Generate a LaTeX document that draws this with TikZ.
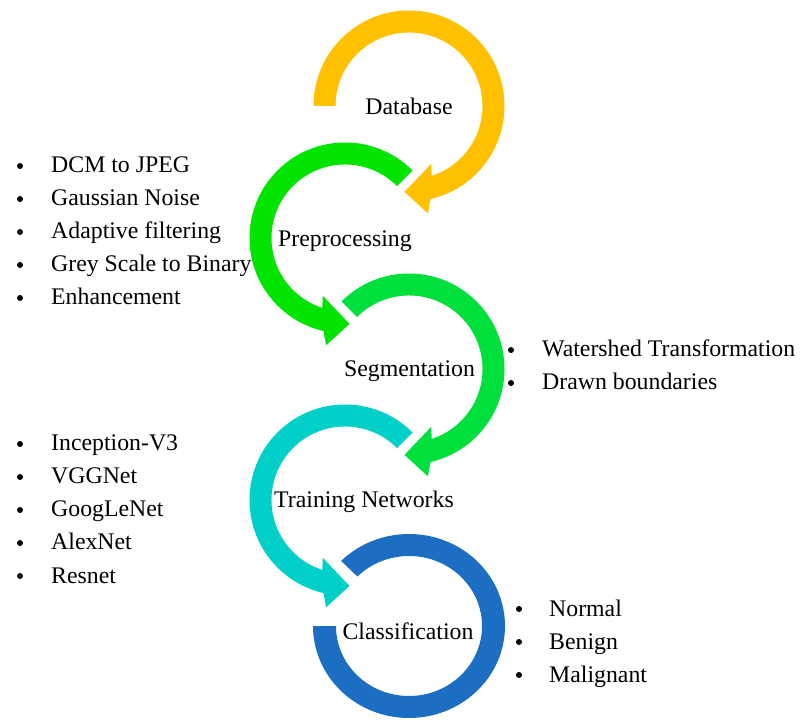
\documentclass[tikz,border=0pt]{standalone}
\usepackage{fontspec}
\setmainfont{Liberation Serif}
\definecolor{cgold}{HTML}{FFC000}
\definecolor{cgreenA}{HTML}{00E400}
\definecolor{cgreenB}{HTML}{00E03C}
\definecolor{cteal}{HTML}{00D0C8}
\definecolor{cblue}{HTML}{1B6EC2}
\tikzset{
  lbl/.style={font=\fontsize{23.8pt}{28pt}\selectfont, inner sep=0pt, anchor=base},
  item/.style={font=\fontsize{23.8pt}{28pt}\selectfont, inner sep=0pt, anchor=base west},
  bul/.style={circle, fill=black, inner sep=0pt, minimum size=6pt},
}
\begin{document}
\begin{tikzpicture}[x=1pt,y=1pt]
\useasboundingbox (0,0) rectangle (803,726);
% Ring 1 (Database), clockwise
\begin{scope}[shift={(409,620)}]
\fill[cgold] (180:95.5) arc[start angle=180, end angle=-77, radius=95.5]
  -- (-80:109) -- (-93:86) -- (-69:62) -- (-72:73.5)
  arc[start angle=-72, end angle=180, radius=73.5] -- cycle;
\end{scope}
% Ring 2 (Preprocessing), counterclockwise
\begin{scope}[shift={(345,488)}]
\fill[cgreenA] (45:95.5) arc[start angle=45, end angle=257, radius=95.5]
  -- (260:109) -- (273:86) -- (249:62) -- (252:73.5)
  arc[start angle=252, end angle=45, radius=73.5] -- cycle;
\end{scope}
% Ring 3 (Segmentation), clockwise
\begin{scope}[shift={(409,357)}]
\fill[cgreenB] (135:95.5) arc[start angle=135, end angle=-77, radius=95.5]
  -- (-80:109) -- (-93:86) -- (-69:62) -- (-72:73.5)
  arc[start angle=-72, end angle=135, radius=73.5] -- cycle;
\end{scope}
% Ring 4 (Training Networks), counterclockwise
\begin{scope}[shift={(345,226)}]
\fill[cteal] (45:95.5) arc[start angle=45, end angle=257, radius=95.5]
  -- (260:109) -- (273:86) -- (249:62) -- (252:73.5)
  arc[start angle=252, end angle=45, radius=73.5] -- cycle;
\end{scope}
% Ring 5 (Classification)
\begin{scope}[shift={(409,100)}]
\fill[cblue] (135:96 and 92) arc[start angle=135, end angle=-180, x radius=96, y radius=92]
  -- (180:73 and 70) arc[start angle=-180, end angle=135, x radius=73, y radius=70] -- cycle;
\end{scope}
% Labels
\node[lbl] (db) at (409,611) {Database};
\node[lbl] (pre) at (345,479) {Preprocessing};
\node[lbl] (seg) at (409.5,349) {Segmentation};
\node[lbl] (tr) at (364,218) {Training Networks};
\node[lbl] (cl) at (408,87) {Classification};
% Left list 1
\foreach \t [count=\i] in {DCM to JPEG, Gaussian Noise, Adaptive filtering, Grey Scale to Binary, Enhancement} {
  \pgfmathsetmacro{\yy}{726-173-33*(\i-1)}
  \node[item] (la\i) at (51,\yy) {\t};
  \node[bul] (lab\i) at (20,\yy+7) {};
}
% Right list 1
\foreach \t [count=\i] in {Watershed Transformation, Drawn boundaries} {
  \pgfmathsetmacro{\yy}{726-357-33*(\i-1)}
  \node[item] (ra\i) at (542,\yy) {\t};
  \node[bul] (rab\i) at (511,\yy+7) {};
}
% Left list 2
\foreach \t [count=\i] in {Inception-V3, VGGNet, GoogLeNet, AlexNet, Resnet} {
  \pgfmathsetmacro{\yy}{726-451-33*(\i-1)}
  \node[item] (lb\i) at (51,\yy) {\t};
  \node[bul] (lbb\i) at (20,\yy+7) {};
}
% Right list 2
\foreach \t [count=\i] in {Normal, Benign, Malignant} {
  \pgfmathsetmacro{\yy}{726-616-33*(\i-1)}
  \node[item] (rb\i) at (549,\yy) {\t};
  \node[bul] (rbb\i) at (519,\yy+7) {};
}
\end{tikzpicture}
\end{document}
